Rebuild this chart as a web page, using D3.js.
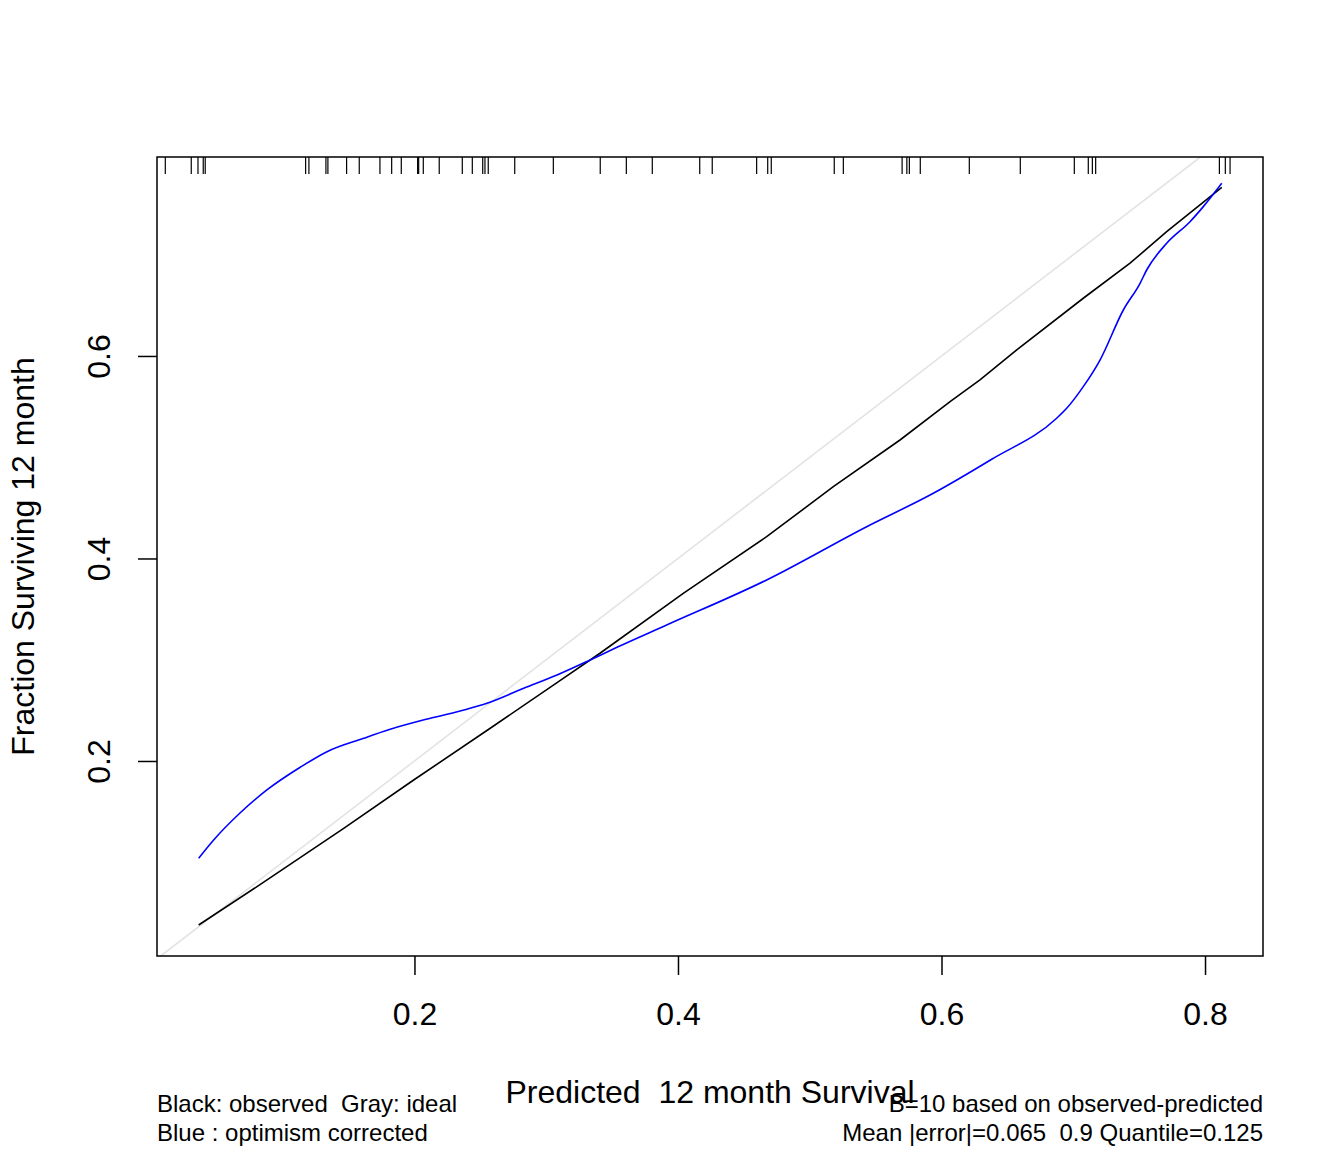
<!DOCTYPE html>
<html>
<head>
<meta charset="utf-8">
<script src="https://cdn.jsdelivr.net/npm/d3@7"></script>
<style>
  body { margin: 0; background: #fff; }
  svg text { font-family: "Liberation Sans", Arial, sans-serif; fill: #000; white-space: pre; }
</style>
</head>
<body>
<div id="chart"></div>
<script>
// Predicted survival where the rug ticks sit
const rugX = [0.0109, 0.0306, 0.0357, 0.0397, 0.0412, 0.1174, 0.1199, 0.1328, 0.1343, 0.1485,
  0.1581, 0.1738, 0.1827, 0.1900, 0.2024, 0.2032, 0.2067, 0.2188, 0.2363, 0.2439,
  0.2518, 0.2535, 0.2560, 0.2761, 0.3054, 0.3410, 0.3608, 0.3805, 0.4165, 0.4260,
  0.4597, 0.4681, 0.4708, 0.5186, 0.5255, 0.5701, 0.5737, 0.5756, 0.5839, 0.6211,
  0.6598, 0.7008, 0.7114, 0.7145, 0.7170, 0.8109, 0.8154, 0.8190];

// Apparent (observed) calibration curve
const observedX = [0.0362, 0.0805, 0.1463, 0.1994, 0.2575, 0.3082, 0.3408, 0.4040, 0.4673,
  0.5179, 0.5685, 0.6065, 0.6292, 0.6571, 0.7076, 0.7431, 0.7709, 0.8127];
const observedY = [0.0380, 0.0759, 0.1335, 0.1812, 0.2323, 0.2773, 0.3064, 0.3656, 0.4215,
  0.4709, 0.5170, 0.5549, 0.5763, 0.6059, 0.6570, 0.6916, 0.7228, 0.7666];

// Bias (optimism) corrected curve
const correctedX = [0.0362, 0.0476, 0.0678, 0.0880, 0.1133, 0.1336, 0.1614, 0.1816, 0.2120,
  0.2398, 0.2550, 0.2829, 0.3082, 0.3334, 0.3537, 0.3914, 0.4673, 0.5432, 0.5938,
  0.6381, 0.6874, 0.6950, 0.7076, 0.7203, 0.7380, 0.7507, 0.7557, 0.7709, 0.7886,
  0.7987, 0.8127];
const correctedY = [0.1039, 0.1220, 0.1489, 0.1714, 0.1938, 0.2092, 0.2224, 0.2313, 0.2422,
  0.2511, 0.2570, 0.2718, 0.2849, 0.2998, 0.3123, 0.3343, 0.3788, 0.4314, 0.4644,
  0.4980, 0.5385, 0.5483, 0.5697, 0.5960, 0.6454, 0.6718, 0.6849, 0.7113, 0.7326,
  0.7475, 0.7706];

const xTicks = [0.2, 0.4, 0.6, 0.8];
const yTicks = [0.2, 0.4, 0.6];
const xDomain = [0.0046, 0.8440];
const yDomain = [0.0074, 0.7965];

const xTitle = "Predicted  12 month Survival";
const yTitle = "Fraction Surviving 12 month";
const notesLeft = ["Black: observed  Gray: ideal", "Blue : optimism corrected"];
const notesRight = ["B=10 based on observed-predicted", "Mean |error|=0.065  0.9 Quantile=0.125"];

class CalibrationPlot {
  constructor (opts) {
    this.w = opts.w;
    this.h = opts.h;
    this.left = 157;
    this.right = 1263;
    this.top = 157;
    this.bottom = 956;
    this.fs = 32;
  }

  render () {
    this.svg = d3.select('#chart')
      .append('svg')
      .attr('width', this.w)
      .attr('height', this.h);

    this.svg.append('rect')
      .attr('width', this.w)
      .attr('height', this.h)
      .attr('fill', '#fff');

    this.computeScaleFns();
    this.addLines();
    this.addRug();
    this.addAxes();
    this.addLabels();
  }

  computeScaleFns () {
    this.x = d3.scaleLinear().domain(xDomain).range([this.left, this.right]);
    this.y = d3.scaleLinear().domain(yDomain).range([this.bottom, this.top]);
  }

  addLines () {
    this.svg.append('clipPath')
      .attr('id', 'plot-clip')
      .append('rect')
      .attr('x', this.left)
      .attr('y', this.top)
      .attr('width', this.right - this.left)
      .attr('height', this.bottom - this.top);

    // ideal line y = x
    let lo = Math.max(xDomain[0], yDomain[0]),
        hi = Math.min(xDomain[1], yDomain[1]);
    this.svg.append('line')
      .attr('clip-path', 'url(#plot-clip)')
      .attr('x1', this.x(lo)).attr('y1', this.y(lo))
      .attr('x2', this.x(hi)).attr('y2', this.y(hi))
      .attr('stroke', '#e3e3e3')
      .attr('stroke-width', 1.6);

    let line = d3.line()
      .x((d) => this.x(d[0]))
      .y((d) => this.y(d[1]));

    this.svg.append('path')
      .attr('d', line(d3.zip(observedX, observedY)))
      .attr('fill', 'none')
      .attr('stroke', '#000')
      .attr('stroke-width', 1.6);

    this.svg.append('path')
      .attr('d', line.curve(d3.curveMonotoneX)(d3.zip(correctedX, correctedY)))
      .attr('fill', 'none')
      .attr('stroke', '#0000ff')
      .attr('stroke-width', 1.6);
  }

  addRug () {
    this.svg.selectAll('.rug')
      .data(rugX)
      .enter().append('line')
      .attr('class', 'rug')
      .attr('x1', (d) => this.x(d))
      .attr('x2', (d) => this.x(d))
      .attr('y1', this.top)
      .attr('y2', this.top + 17)
      .attr('stroke', '#000')
      .attr('stroke-width', 1.2);
  }

  addAxes () {
    // frame
    this.svg.append('rect')
      .attr('x', this.left)
      .attr('y', this.top)
      .attr('width', this.right - this.left)
      .attr('height', this.bottom - this.top)
      .attr('fill', 'none')
      .attr('stroke', '#000')
      .attr('stroke-width', 1.5);

    let xAxis = this.svg.append('g')
      .attr('transform', `translate(0,${this.bottom})`)
      .call(d3.axisBottom(this.x).tickValues(xTicks).tickSize(19).tickPadding(27)
        .tickFormat(d3.format('.1f')));
    xAxis.select('.domain').remove();
    xAxis.selectAll('line').attr('stroke-width', 1.5);
    xAxis.selectAll('text')
      .attr('font-size', this.fs)
      .attr('font-family', '"Liberation Sans", Arial, sans-serif');

    let yAxis = this.svg.append('g')
      .attr('transform', `translate(${this.left},0)`)
      .call(d3.axisLeft(this.y).tickValues(yTicks).tickSize(19)
        .tickFormat(d3.format('.1f')));
    yAxis.select('.domain').remove();
    yAxis.selectAll('line').attr('stroke-width', 1.5);
    yAxis.selectAll('text')
      .attr('transform', 'rotate(-90)')
      .attr('x', 0)
      .attr('y', -47)
      .attr('dy', 0)
      .attr('text-anchor', 'middle')
      .attr('font-size', this.fs)
      .attr('font-family', '"Liberation Sans", Arial, sans-serif');
  }

  addLabels () {
    let midX = (this.left + this.right) / 2,
        midY = (this.top + this.bottom) / 2;

    this.svg.append('text')
      .attr('x', midX)
      .attr('y', 1103)
      .attr('text-anchor', 'middle')
      .attr('font-size', this.fs)
      .text(xTitle);

    this.svg.append('text')
      .attr('transform', `translate(34,${midY}) rotate(-90)`)
      .attr('text-anchor', 'middle')
      .attr('font-size', this.fs)
      .text(yTitle);

    notesLeft.forEach((t, i) => {
      this.svg.append('text')
        .attr('x', this.left)
        .attr('y', 1112 + i * 29)
        .attr('font-size', 24)
        .text(t);
    });

    notesRight.forEach((t, i) => {
      this.svg.append('text')
        .attr('x', this.right)
        .attr('y', 1112 + i * 29)
        .attr('text-anchor', 'end')
        .attr('font-size', 24)
        .text(t);
    });
  }
}

new CalibrationPlot({ w: 1344, h: 1152 }).render();
</script>
</body>
</html>
